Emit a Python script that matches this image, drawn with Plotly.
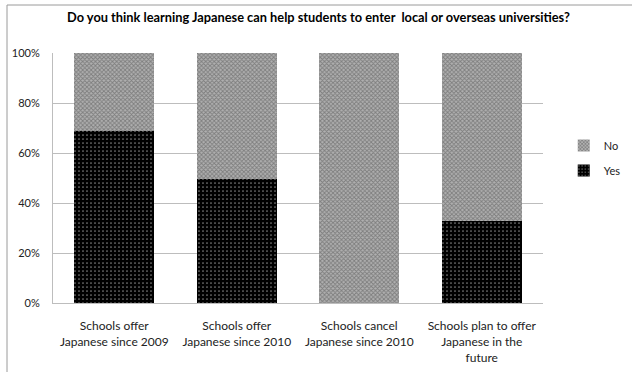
import plotly.graph_objects as go

categories = [
    "Schools offer<br>Japanese since 2009",
    "Schools offer<br>Japanese since 2010",
    "Schools cancel<br>Japanese since 2010",
    "Schools plan to offer<br>Japanese in the<br>future",
]
yes_pct = [69, 49.5, 0, 33]
no_pct = [100 - v for v in yes_pct]

font_family = "Lato, 'Open Sans', sans-serif"

fig = go.Figure()
fig.add_trace(go.Bar(
    x=categories, y=yes_pct, name="Yes", legendgroup="yes", legendrank=2,
    marker=dict(color="black", line=dict(width=0),
                pattern=dict(shape=".", bgcolor="black", fgcolor="white",
                             size=4, solidity=0.15)),
))
fig.add_trace(go.Bar(
    x=categories, y=no_pct, name="No", legendgroup="no", legendrank=1,
    marker=dict(color="#8a8a8a", line=dict(width=0),
                pattern=dict(shape="x", bgcolor="#b0b0b0", fgcolor="#4a4a4a",
                             size=3, solidity=0.5)),
))

fig.update_layout(
    barmode="stack",
    bargap=0.35,
    width=637, height=372,
    margin=dict(l=53, r=94, t=53, b=69),
    paper_bgcolor="white", plot_bgcolor="white",
    font=dict(family=font_family, size=11, color="#222"),
    title=dict(text="<b>Do you think learning Japanese can help students to enter  local or overseas universities?</b>",
               x=0.5, xanchor="center", y=0.952, yanchor="middle",
               font=dict(size=12.8, color="black")),
    legend=dict(xref="container", yref="container",
                x=0.885, xanchor="left", y=0.575, yanchor="middle",
                traceorder="grouped", font=dict(size=11),
                itemwidth=30, tracegroupgap=6),
    showlegend=True,
)
fig.update_yaxes(range=[0, 100], tickvals=[0, 20, 40, 60, 80, 100],
                 ticktext=["0%", "20%", "40%", "60%", "80%", "100%"],
                 showgrid=True, gridcolor="#bdbdbd", gridwidth=1,
                 showline=True, linecolor="#bdbdbd", linewidth=1,
                 ticks="", ticklen=0, tickfont=dict(size=11), zeroline=False,
                 ticklabelstandoff=10, automargin=False)
fig.update_xaxes(showline=True, linecolor="#bdbdbd", linewidth=1,
                 tickfont=dict(size=12), ticks="", tickangle=0,
                 ticklabelstandoff=12, automargin=False)

# outer chart frame
fig.add_shape(type="line", xref="paper", yref="paper",
              x0=-46/490, x1=1 + 89/490, y0=1 + 48/250, y1=1 + 48/250,
              line=dict(color="#9a9a9a", width=1))
fig.add_shape(type="line", xref="paper", yref="paper",
              x0=-46/490, x1=-46/490, y0=1 + 48/250, y1=-69/250,
              line=dict(color="#9a9a9a", width=1))

fig.write_html("out.html")
